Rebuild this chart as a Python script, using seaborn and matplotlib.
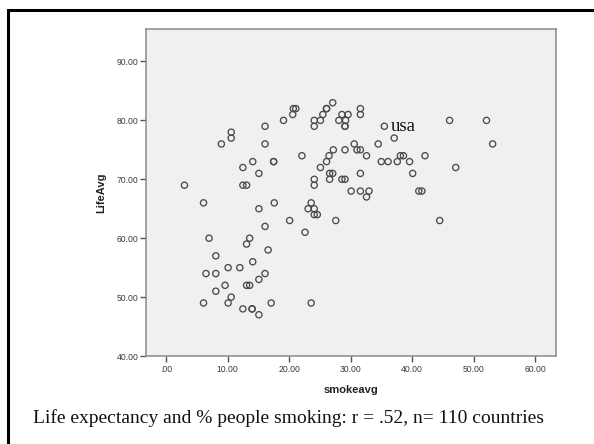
import matplotlib
matplotlib.use('Agg')
import matplotlib.pyplot as plt
import seaborn as sns
import pandas as pd
from matplotlib.patches import Rectangle

# % of people smoking per country
smokeavg = [
    3.0, 6.1, 7.0, 8.1, 6.5, 8.1, 8.1, 6.1, 9.6, 10.1, 10.1, 10.6,
    9.0, 10.6, 10.6, 12.5, 12.5, 13.1, 14.1, 15.1, 16.1, 16.1, 17.5, 17.5,
    17.6, 15.1, 16.1, 13.6, 13.1, 16.6, 14.1, 12.0, 16.1, 15.1, 13.1, 13.6,
    12.5, 14.0, 14.0, 15.1, 17.1, 19.1, 20.6, 20.7, 21.1, 22.1, 20.1, 22.6,
    23.6, 24.1, 24.1, 25.1, 25.5, 26.1, 26.1, 27.1, 28.1, 28.6, 29.2, 29.1,
    29.1, 29.6, 31.6, 31.6, 24.1, 24.1, 25.1, 26.1, 26.5, 27.2, 26.6, 27.1,
    26.6, 28.6, 29.1, 29.1, 23.6, 23.1, 24.1, 24.1, 24.6, 27.6, 30.6, 31.05,
    31.6, 32.6, 31.6, 30.1, 31.6, 33.0, 32.6, 35.5, 34.5, 37.1, 35.0, 36.1,
    37.6, 38.1, 38.6, 39.6, 40.1, 41.1, 41.6, 42.1, 44.5, 46.1, 47.1, 52.1,
    53.1,
]
# average life expectancy per country
lifeavg = [
    69, 66, 60, 57, 54, 54, 51, 49, 52, 55, 49, 50,
    76, 78, 77, 72, 69, 69, 73, 71, 79, 76, 73, 73,
    66, 65, 62, 60, 59, 58, 56, 55, 54, 53, 52, 52,
    48, 48, 48, 47, 49, 80, 81, 82, 82, 74, 63, 61,
    49, 80, 79, 80, 81, 82, 82, 83, 80, 81, 80, 79,
    79, 81, 82, 81, 70, 69, 72, 73, 74, 75, 71, 71,
    70, 70, 70, 75, 66, 65, 65, 64, 64, 63, 76, 75,
    75, 74, 71, 68, 68, 68, 67, 79, 76, 77, 73, 73,
    73, 74, 74, 73, 71, 68, 68, 74, 63, 80, 72, 80,
    76,
]
usa = (35.5, 79)

df = pd.DataFrame({'smokeavg': smokeavg, 'LifeAvg': lifeavg})

sns.set_style('white')
plt.rcParams['font.family'] = ['Liberation Sans', 'DejaVu Sans']

fig = plt.figure(figsize=(5.94, 4.44), dpi=100)
ax = fig.add_axes([146 / 594, 1 - 356 / 444, 410 / 594, 327.5 / 444])
ax.set_facecolor('#f0f0f0')

sns.scatterplot(x='smokeavg', y='LifeAvg', data=df, ax=ax, marker='o',
                s=20, linewidth=0.95, edgecolor='#4a4a4a', legend=False)
ax.collections[0].set_facecolor('none')

ax.set_xlim(-3.25, 63.4)
ax.set_ylim(40, 95.6)
ax.set_xticks(range(0, 61, 10))
ax.set_xticklabels(['.00'] + [f'{v}.00' for v in range(10, 61, 10)])
ax.set_yticks(range(40, 91, 10))
ax.set_yticklabels([f'{v}.00' for v in range(40, 91, 10)])
ax.tick_params(axis='both', direction='out', length=4.2, width=1.0,
               color='#555555', labelsize=6.2, labelcolor='#3a3a3a', pad=1)
ax.tick_params(axis='x', pad=2.5)
ax.tick_params(axis='y', left=True)
ax.tick_params(axis='x', bottom=True)
for sp in ax.spines.values():
    sp.set_visible(True)
    sp.set_color('#8a8a8a')
    sp.set_linewidth(1.1)

ax.set_xlabel('smokeavg', fontsize=8, fontweight='bold', color='#222222')
ax.set_ylabel('LifeAvg', fontsize=8, fontweight='bold', color='#222222')
ax.xaxis.set_label_coords(0.5, -0.0885)
ax.yaxis.set_label_coords(-0.096, 0.5)

ax.text(usa[0] + 1.0, usa[1] - 0.1, 'usa', fontsize=13.5,
        family='Liberation Serif', va='center', ha='left', color='#111111')

fig.text(33 / 594, 1 - 418 / 444,
         'Life expectancy and % people smoking: r = .52, n= 110 countries',
         fontsize=14, family='Liberation Serif', va='center', ha='left',
         color='#111111')

fig.patches.append(Rectangle((7.5 / 594, -0.2), 1.2, 1.2 - 10 / 444,
                             transform=fig.transFigure, fill=False,
                             edgecolor='black', linewidth=2.2))

fig.savefig('out.png', dpi=100)
